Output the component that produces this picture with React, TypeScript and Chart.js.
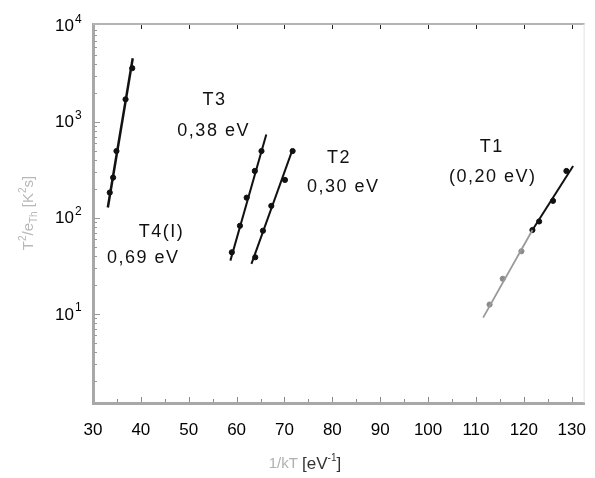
import React, { useEffect, useRef } from "react";
import { Chart, registerables } from "chart.js";

Chart.register(...registerables);

// ---- data ----
const xTicks = [30, 40, 50, 60, 70, 80, 90, 100, 110, 120, 130];
const yDecades = [1, 2, 3, 4];

const t4Fit = [{ x: 33.1, y: 128 }, { x: 38.3, y: 4580 }];
const t4Points = [
  { x: 33.5, y: 183 }, { x: 34.2, y: 262 }, { x: 34.9, y: 495 },
  { x: 36.8, y: 1710 }, { x: 38.2, y: 3610 },
];
const t3Fit = [{ x: 58.7, y: 35.8 }, { x: 66.2, y: 737 }];
const t3Points = [
  { x: 59.0, y: 43.7 }, { x: 60.7, y: 82.6 }, { x: 62.1, y: 162 },
  { x: 63.8, y: 307 }, { x: 65.2, y: 495 },
];
const t2Fit = [{ x: 63.1, y: 33.1 }, { x: 71.7, y: 515 }];
const t2Points = [
  { x: 63.9, y: 38.8 }, { x: 65.5, y: 73.3 }, { x: 67.25, y: 133 },
  { x: 70.1, y: 248 }, { x: 71.7, y: 495 },
];
const t1FitLow = [{ x: 111.5, y: 9.14 }, { x: 121.8, y: 74.6 }];
const t1FitHigh = [{ x: 121.8, y: 74.6 }, { x: 130.3, y: 346 }];
const t1PointsLow = [{ x: 112.85, y: 12.5 }, { x: 115.6, y: 23.2 }, { x: 119.5, y: 44.8 }];
const t1PointsHigh = [
  { x: 121.8, y: 74.6 }, { x: 123.2, y: 91.5 }, { x: 126.1, y: 150 }, { x: 128.9, y: 307 },
];

const labelTexts = ["T3", "0,38 eV", "T2", "0,30 eV", "T4(I)", "0,69 eV", "T1", "(0,20 eV)"];
const labelX = [55.4, 55.2, 81.4, 82.3, 44.3, 40.5, 113.3, 113.5];
const labelY = [1695, 806, 422, 210, 71.5, 38.3, 549, 267];

const FONT = '"Liberation Sans", Arial, sans-serif';

function drawPieces(ctx: CanvasRenderingContext2D, pieces: { t: string; size: number; dy: number; color: string }[], cx: number, cy: number) {
  let total = 0;
  for (const p of pieces) {
    ctx.font = `${p.size}px ${FONT}`;
    total += ctx.measureText(p.t).width;
  }
  let x = cx - total / 2;
  ctx.textAlign = "left";
  ctx.textBaseline = "middle";
  for (const p of pieces) {
    ctx.font = `${p.size}px ${FONT}`;
    ctx.fillStyle = p.color;
    ctx.fillText(p.t, x, cy + p.dy);
    x += ctx.measureText(p.t).width;
  }
}

const decorPlugin = {
  id: "decor",
  afterDraw(chart: any) {
    const { ctx, chartArea: a, scales } = chart;
    const xs = scales.x;
    const ys = scales.y;
    ctx.save();
    // top & right borders
    ctx.strokeStyle = "#b4b4b4";
    ctx.lineWidth = 2;
    ctx.beginPath();
    ctx.moveTo(a.left, a.top);
    ctx.lineTo(a.right, a.top);
    ctx.stroke();
    ctx.strokeStyle = "#e2e2e2";
    ctx.lineWidth = 1;
    ctx.beginPath();
    ctx.moveTo(a.right - 0.5, a.top);
    ctx.lineTo(a.right - 0.5, a.bottom);
    ctx.stroke();

    // inward ticks bottom
    ctx.strokeStyle = "#8a8a8a";
    ctx.lineWidth = 1;
    for (let v = 35; v <= 130; v += 5) {
      const px = Math.round(xs.getPixelForValue(v)) + 0.5;
      const len = v % 10 === 0 ? 5 : 3;
      ctx.beginPath();
      ctx.moveTo(px, a.bottom - 1);
      ctx.lineTo(px, a.bottom - 1 - len);
      ctx.stroke();
    }
    // inward ticks top
    ctx.strokeStyle = "#222";
    for (const v of xTicks) {
      if (v === 30) continue;
      const px = Math.round(xs.getPixelForValue(v)) + 0.5;
      ctx.beginPath();
      ctx.moveTo(px, a.top + 1);
      ctx.lineTo(px, a.top + 5);
      ctx.stroke();
    }
    // inward ticks left (log)
    ctx.strokeStyle = "#9a9a9a";
    for (let e = 0; e <= 3; e++) {
      for (let m = 1; m <= 9; m++) {
        const v = m * Math.pow(10, e);
        if (v < ys.min) continue;
        const py = Math.round(ys.getPixelForValue(v)) + 0.5;
        const len = m === 1 ? 6 : 3;
        ctx.beginPath();
        ctx.moveTo(a.left + 1, py);
        ctx.lineTo(a.left + 1 + len, py);
        ctx.stroke();
      }
    }

    // y tick labels 10^n
    for (const e of yDecades) {
      const py = ys.getPixelForValue(Math.pow(10, e));
      ctx.fillStyle = "#000";
      ctx.font = `17px ${FONT}`;
      ctx.textAlign = "right";
      ctx.textBaseline = "middle";
      ctx.fillText("10", 74, py + 1);
      ctx.font = `12px ${FONT}`;
      ctx.textAlign = "left";
      ctx.fillText(String(e), 75, py - 6);
    }

    // x title
    drawPieces(
      ctx,
      [
        { t: "1/kT ", size: 15, dy: 0, color: "#b0b0b0" },
        { t: "[eV", size: 17, dy: 0, color: "#333" },
        { t: "-1", size: 10, dy: -6, color: "#333" },
        { t: "]", size: 17, dy: 0, color: "#333" },
      ],
      305,
      464
    );

    // y title rotated
    ctx.save();
    ctx.translate(29, 213);
    ctx.rotate(-Math.PI / 2);
    drawPieces(
      ctx,
      [
        { t: "T", size: 15, dy: 0, color: "#b8b8b8" },
        { t: "2", size: 10, dy: -6, color: "#b8b8b8" },
        { t: "/e", size: 15, dy: 0, color: "#b8b8b8" },
        { t: "Th", size: 10, dy: 5, color: "#b8b8b8" },
        { t: " [K", size: 15, dy: 0, color: "#b8b8b8" },
        { t: "2", size: 10, dy: -6, color: "#b8b8b8" },
        { t: "s]", size: 15, dy: 0, color: "#b8b8b8" },
      ],
      0,
      0
    );
    ctx.restore();

    // annotations
    ctx.fillStyle = "#111";
    ctx.font = `18px ${FONT}`;
    (ctx as any).letterSpacing = "1.5px";
    ctx.textAlign = "center";
    ctx.textBaseline = "middle";
    labelTexts.forEach((t, i) => {
      ctx.fillText(t, xs.getPixelForValue(labelX[i]), ys.getPixelForValue(labelY[i]));
    });
    (ctx as any).letterSpacing = "0px";
    ctx.restore();
  },
};

function lineDs(data: any[], color: string, width: number) {
  return {
    type: "line" as const,
    data,
    borderColor: color,
    borderWidth: width,
    pointRadius: 0,
    showLine: true,
    fill: false,
  };
}
function ptDs(data: any[], color: string) {
  return {
    type: "scatter" as const,
    data,
    backgroundColor: color,
    borderColor: color,
    pointRadius: 2.6,
    pointStyle: "circle",
    showLine: false,
  };
}

export default function App() {
  const ref = useRef<HTMLCanvasElement>(null);
  useEffect(() => {
    if (!ref.current) return;
    const chart = new Chart(ref.current, {
      type: "scatter",
      data: {
        datasets: [
          lineDs(t4Fit, "#111", 2.5),
          ptDs(t4Points, "#111"),
          lineDs(t3Fit, "#111", 2),
          ptDs(t3Points, "#111"),
          lineDs(t2Fit, "#111", 2),
          ptDs(t2Points, "#111"),
          lineDs(t1FitLow, "#9a9a9a", 1.8),
          ptDs(t1PointsLow, "#8a8a8a"),
          lineDs(t1FitHigh, "#111", 2),
          ptDs(t1PointsHigh, "#111"),
        ] as any,
      },
      options: {
        animation: false,
        responsive: false,
        devicePixelRatio: 1,
        layout: { padding: { top: 24, right: 5, left: 0, bottom: 0 } },
        plugins: { legend: { display: false }, tooltip: { enabled: false } },
        scales: {
          x: {
            type: "linear",
            min: 30,
            max: 132.7,
            grid: { display: false },
            border: { display: true, color: "#a8a8a8", width: 3 },
            ticks: {
              color: "#000",
              font: { family: FONT, size: 17 },
              padding: 9,
              maxRotation: 0,
            },
            afterBuildTicks: (s: any) => {
              s.ticks = xTicks.map((v) => ({ value: v }));
            },
            afterFit: (s: any) => {
              s.height = 75;
            },
          },
          y: {
            type: "logarithmic",
            min: 1.18,
            max: 10400,
            grid: { display: false },
            border: { display: true, color: "#a8a8a8", width: 3 },
            ticks: { display: false },
            afterFit: (s: any) => {
              s.width = 93;
            },
          },
        },
      } as any,
      plugins: [decorPlugin],
    });
    return () => chart.destroy();
  }, []);
  return (
    <div style={{ position: "absolute", left: 0, top: 0, width: 595, height: 478, background: "#fff" }}>
      <canvas ref={ref} width={595} height={478} style={{ display: "block" }} />
    </div>
  );
}
